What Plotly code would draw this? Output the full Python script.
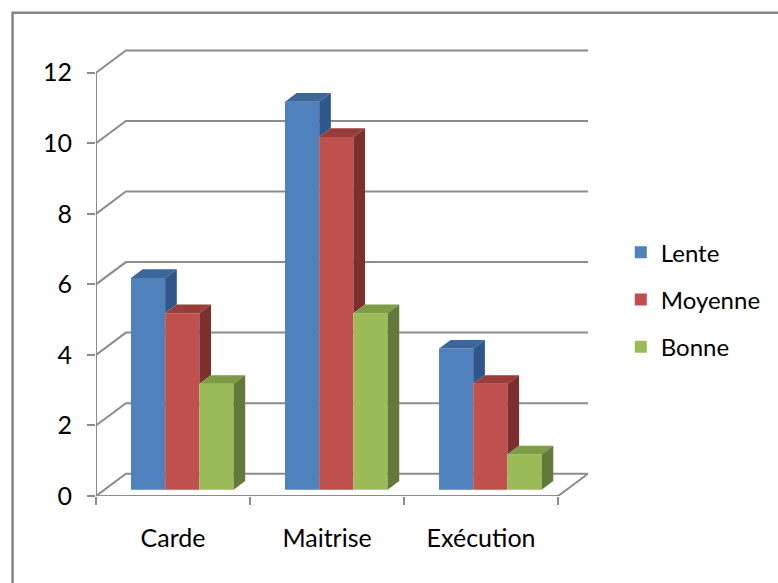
import plotly.graph_objects as go

categories = ["Carde", "Maitrise", "Exécution"]
series_names = ["Lente", "Moyenne", "Bonne"]
lente = [6, 11, 4]
moyenne = [5, 10, 3]
bonne = [3, 5, 1]
y_ticks = [0, 2, 4, 6, 8, 10, 12]

front_colors = ["#4F81BD", "#C0504D", "#9BBB59"]
top_colors = ["#3D6798", "#9A3C39", "#7E9B45"]
side_colors = ["#30578A", "#7C302E", "#63793A"]
grid_color = "#8C8C8C"
font_family = "Lato"
font_size = 25
legend_font_size = 24

W, H = 778, 583
L, R, T, B = 96, 183.9, 41.1, 86.5
PW, PH = W - L - R, H - T - B
x_range = [-0.5, 2.72]
y_range = [0, 12.9]
bar_w = 0.222
offsets = [-0.273, -0.051, 0.171]
base = 0.18
ddx, ddy = 0.0756, 0.246   # bar depth (data units)
wdx, wdy = 0.194, 0.632    # back-wall offset (data units)

series = [lente, moyenne, bonne]
x_pos = list(range(len(categories)))

fig = go.Figure()

# front faces
for i, vals in enumerate(series):
    fig.add_trace(go.Bar(
        x=x_pos, y=vals, base=base, width=bar_w, offset=offsets[i],
        marker=dict(color=front_colors[i], line=dict(width=0)),
        name=series_names[i], legendgroup=series_names[i],
    ))

# top and side faces
for i, vals in enumerate(series):
    xs_top, ys_top, xs_side, ys_side = [], [], [], []
    for c, v in enumerate(vals):
        x0 = c + offsets[i]
        x1 = x0 + bar_w
        top = base + v
        xs_top += [x0, x1, x1 + ddx, x0 + ddx, x0, None]
        ys_top += [top, top, top + ddy, top + ddy, top, None]
        low = base + series[i + 1][c] if i < len(series) - 1 else base
        if low < top:
            xs_side += [x1, x1, x1 + ddx, x1 + ddx, x1, None]
            ys_side += [low, top, top + ddy, low + ddy, low, None]
    fig.add_trace(go.Scatter(x=xs_top, y=ys_top, mode="lines", fill="toself",
                             fillcolor=top_colors[i], line=dict(width=0),
                             showlegend=False, hoverinfo="skip"))
    if xs_side:
        fig.add_trace(go.Scatter(x=xs_side, y=ys_side, mode="lines", fill="toself",
                                 fillcolor=side_colors[i], line=dict(width=0),
                                 showlegend=False, hoverinfo="skip"))

shapes = []
x_left = x_range[0]
x_front_right = len(categories) - 0.5
for v in y_ticks:
    shapes.append(dict(
        type="path", xref="x", yref="y", layer="below",
        path=f"M {x_left},{v} L {x_left + wdx},{v + wdy} L {x_front_right + wdx},{v + wdy}",
        line=dict(color=grid_color, width=2),
    ))
# floor front edge and right edge
shapes.append(dict(
    type="path", xref="x", yref="y", layer="below",
    path=f"M {x_left},0 L {x_front_right},0 L {x_front_right + wdx},{wdy}",
    line=dict(color=grid_color, width=2),
))
# vertical axis line
shapes.append(dict(type="line", xref="x", yref="y", layer="below",
                   x0=x_left, x1=x_left, y0=0, y1=max(y_ticks),
                   line=dict(color=grid_color, width=2)))
# chart border
def px_x(p):
    return (p - L) / PW
def px_y(p):
    return (H - B - p) / PH
shapes.append(dict(type="rect", xref="paper", yref="paper",
                   x0=px_x(12.2), x1=px_x(800), y0=px_y(12.8), y1=px_y(600),
                   line=dict(color="#868686", width=2.5), fillcolor="rgba(0,0,0,0)"))

fig.update_layout(
    width=W, height=H,
    margin=dict(l=L, r=R, t=T, b=B),
    paper_bgcolor="white", plot_bgcolor="white",
    barmode="overlay",
    shapes=shapes,
    font=dict(family=font_family, size=font_size, color="black"),
    showlegend=True,
    legend=dict(x=px_x(623), y=px_y(300), xanchor="left", yanchor="middle",
                font=dict(family=font_family, size=legend_font_size, color="black"),
                tracegroupgap=13, bgcolor="rgba(0,0,0,0)"),
    xaxis=dict(range=x_range, showgrid=False, zeroline=False, showline=False,
               tickmode="array", tickvals=x_pos, ticktext=categories, ticks="",
               ticklabelstandoff=25,
               minor=dict(tickmode="array", tickvals=[-0.5, 0.5, 1.5, 2.5], ticks="outside",
                          ticklen=8, tickwidth=2, tickcolor=grid_color, showgrid=False),
               tickfont=dict(family=font_family, size=font_size, color="black")),
    yaxis=dict(range=y_range, showgrid=False, zeroline=False, showline=False,
               tickmode="array", tickvals=y_ticks, ticks="outside", ticklen=8,
               tickwidth=2, tickcolor=grid_color, ticklabelstandoff=10,
               tickfont=dict(family=font_family, size=font_size, color="black")),
)

fig.write_html("out.html")
